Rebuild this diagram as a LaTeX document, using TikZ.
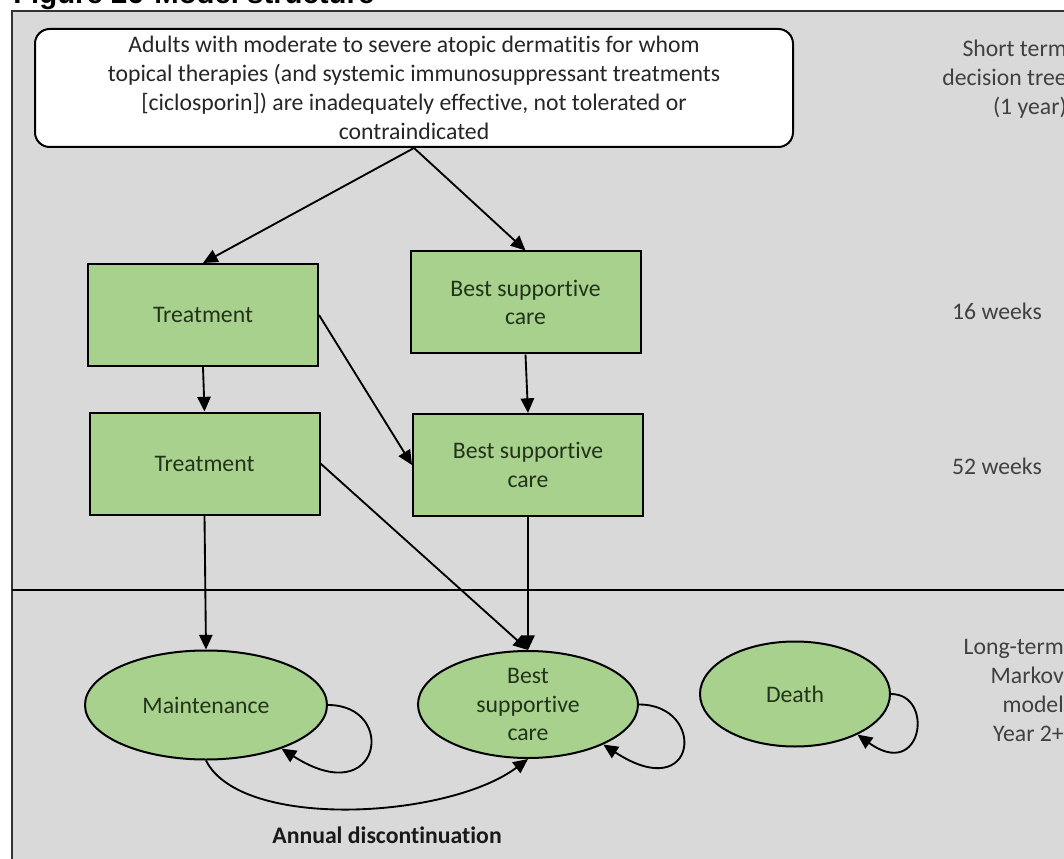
\documentclass[tikz,border=0pt]{standalone}
\usepackage{fontspec}
\setmainfont{Carlito}[Ligatures=NoCommon]
\newfontfamily\capfont{Liberation Sans}
\usetikzlibrary{arrows.meta,shapes.geometric}

\definecolor{panelgray}{HTML}{D9D9D9}
\definecolor{boxgreen}{HTML}{A9D18E}
\definecolor{boxtext}{HTML}{22331A}
\definecolor{sidegray}{HTML}{404040}

\begin{document}
\begin{tikzpicture}[x=0.75pt,y=-0.75pt,
  every node/.style={font=\fontsize{17.8pt}{21.6pt}\selectfont},
  arr/.style={-{Triangle[length=11pt,width=10pt]},line width=1.4pt},
  box/.style={draw,line width=1.5pt,fill=boxgreen,text=boxtext,align=center,
    minimum width=172.5pt,minimum height=76.5pt,inner sep=0pt},
  state/.style={ellipse,draw,line width=1.5pt,fill=boxgreen,text=boxtext,inner sep=0pt},
  sidelabel/.style={text=sidegray,align=right,anchor=east,inner sep=0pt}]
\useasboundingbox (0,0) rectangle (1064,859);
% panel and caption
\fill[white] (0,0) rectangle (1064,859);
\node[anchor=base west,inner sep=0pt,font=\capfont\bfseries\fontsize{22pt}{26pt}\selectfont] (title) at (13,4) {Figure 26\hspace{8pt}Model structure};
\draw[fill=panelgray,draw=black!80,line width=1.5pt] (12,11) rectangle (1080,875);
\draw[line width=1.2pt] (12,590) -- (1064,590);

% decision tree
\node[draw,rounded corners=11pt,fill=white,line width=1.5pt,align=center,inner sep=0pt,
  minimum width=568.5pt,minimum height=88.5pt,text=black!85] (pop) at (414,88)
  {Adults with moderate to severe atopic dermatitis for whom\\topical therapies (and systemic immunosuppressant treatments\\{}[ciclosporin]) are inadequately effective, not tolerated or\\contraindicated};
\node[box] (trt1) at (203,315) {Treatment};
\node[box] (bsc1) at (525.5,302.5) {Best supportive\\care};
\node[box] (trt2) at (204.5,463.5) {Treatment};
\node[box] (bsc2) at (528,465) {Best supportive\\care};

% markov states
\node[state,minimum width=181.5pt,minimum height=81.75pt] (maint) at (206,705) {Maintenance};
\node[state,minimum width=165pt,minimum height=80.25pt,
  label={[align=center,text=boxtext]center:Best\\supportive\\care}] (bscm) at (528,704.5) {};
\node[state,minimum width=142.5pt,minimum height=78.75pt] (death) at (795,694) {Death};

\draw[arr] (pop.south) -- (trt1.north);
\draw[arr] (pop.south) -- (bsc1.north);
\draw[arr] (trt1.south) -- (trt2.north);
\draw[arr] (bsc1.south) -- (bsc2.north);
\draw[arr] (trt1.east) -- (bsc2.west);
\draw[arr] (trt2.east) -- (bscm.north);
\draw[arr] (trt2.south) -- (maint.north);
\draw[arr] (bsc2.south) -- (bscm.north);
\draw[arr] (maint.east) .. controls +(70,0) and +(100,64) .. (maint.-30);
\draw[arr] (bscm.east) .. controls +(68,0) and +(95,62) .. (bscm.-28);
\draw[arr] (death.east) .. controls +(44,0) and +(65,47) .. (death.-33);
\draw[arr] (maint.south) .. controls +(35,70) and +(-80,60) .. (bscm.south);
\node[font=\bfseries\fontsize{17.8pt}{21.6pt}\selectfont,text=black!90] (annual) at (387,835) {Annual discontinuation};

% time labels
\node[sidelabel] (shortterm) at (1067,79) {Short term\\decision tree\\(1 year)};
\node[sidelabel] (wk16) at (1042,311) {16 weeks};
\node[sidelabel] (wk52) at (1042,466) {52 weeks};
\node[sidelabel] (longterm) at (1064,690.5) {Long-term\\Markov\\model\\Year 2+};
\end{tikzpicture}
\end{document}
